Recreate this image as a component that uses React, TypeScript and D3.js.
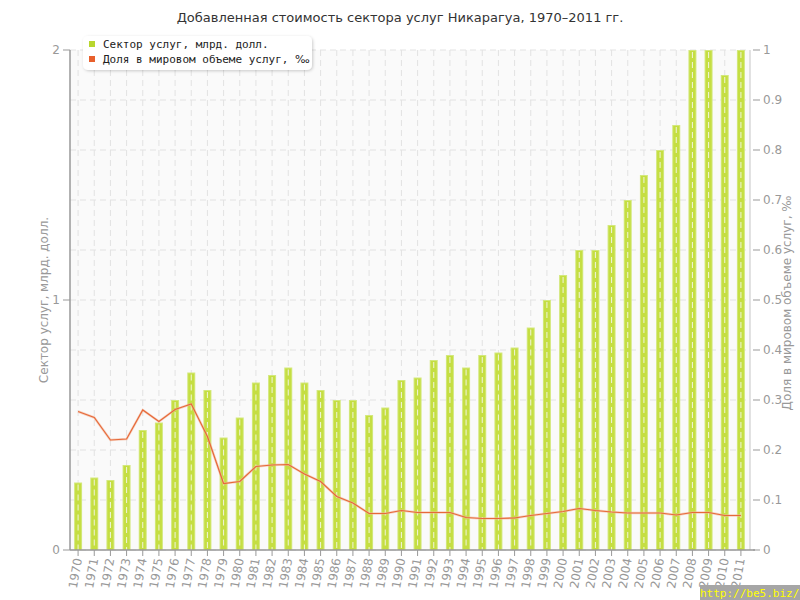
import React from "react";
import * as d3 from "d3";

const years: number[] = d3.range(1970, 2012);
const services: number[] = [
  0.27, 0.29, 0.28, 0.34, 0.48, 0.51, 0.6, 0.71, 0.64, 0.45,
  0.53, 0.67, 0.7, 0.73, 0.67, 0.64, 0.6, 0.6, 0.54, 0.57,
  0.68, 0.69, 0.76, 0.78, 0.73, 0.78, 0.79, 0.81, 0.89, 1.0,
  1.1, 1.2, 1.2, 1.3, 1.4, 1.5, 1.6, 1.7, 2.0, 2.0, 1.9, 2.0,
];
const share: number[] = [
  0.277, 0.265, 0.22, 0.222, 0.28, 0.257, 0.281, 0.292, 0.227, 0.133,
  0.137, 0.167, 0.17, 0.171, 0.152, 0.137, 0.107, 0.094, 0.073, 0.073,
  0.079, 0.075, 0.075, 0.075, 0.065, 0.063, 0.063, 0.064, 0.069, 0.073,
  0.077, 0.083, 0.079, 0.076, 0.074, 0.074, 0.074, 0.07, 0.075, 0.075,
  0.069, 0.069,
];
const leftTicks: number[] = [0, 1, 2];
const rightTicks: number[] = d3.range(0, 11).map((i) => i / 10);

const title = "Добавленная стоимость сектора услуг Никарагуа, 1970–2011 гг.";
const leftTitle = "Сектор услуг, млрд. долл.";
const rightTitle = "Доля в мировом объеме услуг, ‰";
const legendLabels = ["Сектор услуг, млрд. долл.", "Доля в мировом объеме услуг, "];
const permille = "‰";

export default function App() {
  const L = 70, R = 750, T = 50, B = 550;
  const x = d3.scaleBand<number>().domain(years).range([L, 749]).padding(0);
  const yL = d3.scaleLinear().domain([0, 2]).range([B, T]);
  const yR = d3.scaleLinear().domain([0, 1]).range([B, T]);
  const cx = (yr: number) => (x(yr) as number) + x.bandwidth() / 2;
  const line = d3
    .line<number>()
    .x((_, i) => cx(years[i]))
    .y((d) => yR(d));
  const font = "DejaVu Sans, Verdana, sans-serif";
  const mono = "DejaVu Sans Mono, monospace";
  const axisColor = "#999";
  const green = "#c5de42";
  return (
    <svg
      width={800}
      height={600}
      style={{ position: "absolute", left: 0, top: 0, background: "#fff" }}
      fontFamily={font}
    >
      <defs>
        <clipPath id="plot">
          <rect x={L} y={T} width={R - L} height={B - T} />
        </clipPath>
        <filter id="shadow" x="-10%" y="-30%" width="120%" height="170%">
          <feDropShadow dx="1" dy="1" stdDeviation="1.5" floodColor="#000" floodOpacity="0.2" />
        </filter>
      </defs>
      <text x={400} y={22} textAnchor="middle" fontSize={13} fill="#333">
        {title}
      </text>
      <rect x={L} y={T} width={R - L} height={B - T} fill="#fafafa" />
      {rightTicks.map((t) => (
        <line
          key={"h" + t}
          x1={L}
          x2={R}
          y1={yR(t)}
          y2={yR(t)}
          stroke="#e2e2e2"
          strokeDasharray="6,4"
        />
      ))}
      {years.map((yr) => (
        <line
          key={"vb" + yr}
          x1={cx(yr)}
          x2={cx(yr)}
          y1={T}
          y2={B}
          stroke="#e2e2e2"
          strokeDasharray="6,4"
        />
      ))}
      <g clipPath="url(#plot)">
        {years.map((yr, i) => {
          const v = services[i];
          const top = yL(v);
          return (
            <g key={"b" + yr}>
              <rect x={cx(yr) - 4} y={top} width={8} height={B - top} fill="#d3e87c" />
              <rect x={cx(yr) - 3} y={top + 1} width={6} height={B - top - 1} fill={green} />
            </g>
          );
        })}
        {years.map((yr, i) => (
          <line
            key={"vf" + yr}
            x1={cx(yr)}
            x2={cx(yr)}
            y1={yL(services[i]) + 2}
            y2={B}
            stroke="#f0f4dc"
            strokeDasharray="6,4"
          />
        ))}
        <path d={line(share) || ""} fill="none" stroke="#f3b79a" strokeWidth={2.5} strokeOpacity={0.6} />
        <path d={line(share) || ""} fill="none" stroke="#e6693a" strokeWidth={1.2} />
      </g>
      <line x1={L} x2={L} y1={T} y2={B} stroke={axisColor} strokeWidth={1.5} />
      {leftTicks.map((t) => (
        <g key={"lt" + t}>
          <line x1={L - 7} x2={L} y1={yL(t)} y2={yL(t)} stroke={axisColor} />
          <text x={L - 10} y={yL(t) + 4} textAnchor="end" fontSize={12} fill={axisColor}>
            {t}
          </text>
        </g>
      ))}
      <text
        transform={`translate(48,${(T + B) / 2}) rotate(-90)`}
        textAnchor="middle"
        fontSize={12}
        fill={axisColor}
      >
        {leftTitle}
      </text>
      <line x1={R} x2={R} y1={T} y2={B} stroke="#d8d8d8" strokeWidth={1.5} />
      {rightTicks.map((t) => (
        <g key={"rt" + t}>
          <line x1={R + 3} x2={R + 10} y1={yR(t)} y2={yR(t)} stroke={axisColor} />
          <text x={R + 13} y={yR(t) + 4} textAnchor="start" fontSize={12} fill={axisColor}>
            {t}
          </text>
        </g>
      ))}
      <text
        transform={`translate(791,${(T + B) / 2 + 3}) rotate(-90)`}
        textAnchor="middle"
        fontSize={12}
        fill={axisColor}
      >
        {rightTitle}
      </text>
      <line x1={L} x2={R + 5} y1={B} y2={B} stroke={axisColor} strokeWidth={1.5} />
      {years.map((yr) => (
        <g key={"xt" + yr}>
          <line x1={cx(yr)} x2={cx(yr)} y1={B} y2={B + 6} stroke={axisColor} />
          <text
            transform={`translate(${cx(yr) + 4},${B + 9}) rotate(-80)`}
            textAnchor="end"
            fontSize={12}
            fill={axisColor}
          >
            {yr}
          </text>
        </g>
      ))}
      <rect x={83} y={36} width={229} height={34} rx={5} fill="#fff" filter="url(#shadow)" />
      <rect x={89} y={41} width={6} height={6} fill="#b8d62e" />
      <text x={103} y={48} fontSize={11} fontFamily={mono} fill="#222">
        {legendLabels[0]}
      </text>
      <rect x={89} y={56} width={6} height={6} fill="#e8602c" />
      <text x={103} y={63} fontSize={11} fontFamily={mono} fill="#222">
        {legendLabels[1]}
        <tspan fontFamily={font}>{permille}</tspan>
      </text>
      <rect x={700} y={585} width={100} height={15} fill="#a6a6a6" />
      <text x={700} y={597} fontSize={11} fontFamily={mono} fill="#ffff00">
        http://be5.biz/
      </text>
    </svg>
  );
}
